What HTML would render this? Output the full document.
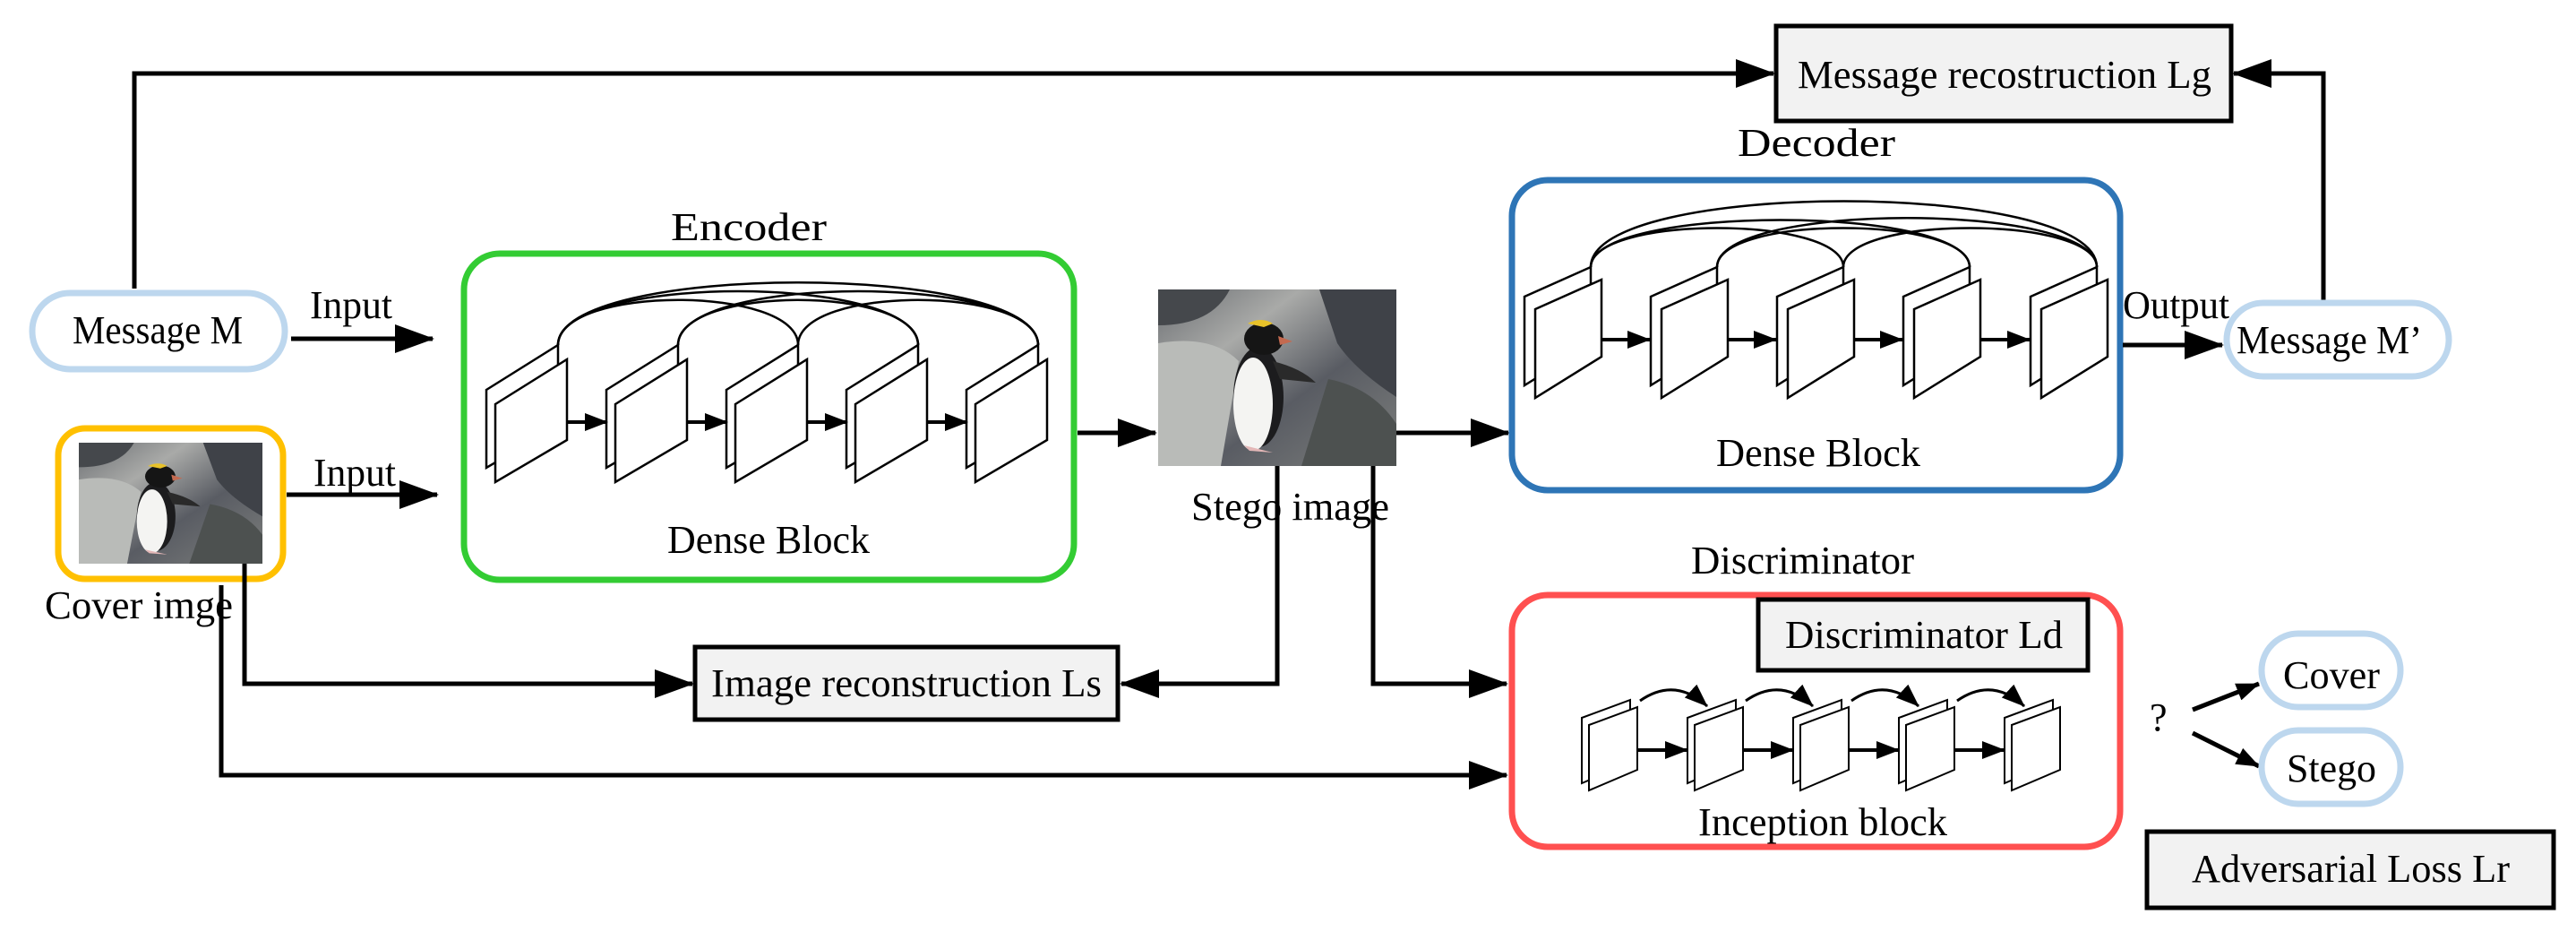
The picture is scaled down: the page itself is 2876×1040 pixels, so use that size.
<!DOCTYPE html>
<html><head><meta charset="utf-8"><style>
html,body{margin:0;padding:0;background:#fff;}
svg{display:block;}
text{font-family:"Liberation Serif",serif;font-size:44px;fill:#000;}
</style></head><body>
<svg width="2876" height="1040" viewBox="0 0 2876 1040" xmlns="http://www.w3.org/2000/svg">
<defs>
<marker id="ah" markerUnits="userSpaceOnUse" markerWidth="44" markerHeight="32" refX="42" refY="16" orient="auto"><path d="M0,0 L44,16 L0,32 Z" fill="#000"/></marker>
<marker id="as" markerUnits="userSpaceOnUse" markerWidth="26" markerHeight="20" refX="25" refY="10" orient="auto"><path d="M0,0 L26,10 L0,20 Z" fill="#000"/></marker>
<linearGradient id="rock" x1="0" y1="0" x2="1" y2="1">
<stop offset="0" stop-color="#6b6e72"/><stop offset="0.3" stop-color="#a9aaa8"/><stop offset="0.6" stop-color="#595c63"/><stop offset="1" stop-color="#7d7f7d"/></linearGradient>
<symbol id="peng" viewBox="0 0 266 197" preserveAspectRatio="none">
<rect width="266" height="197" fill="url(#rock)"/>
<path d="M0,60 Q60,50 90,80 L70,197 L0,197Z" fill="#b9bbb8"/>
<path d="M180,0 L266,0 L266,120 Q220,90 200,60Z" fill="#3f4248"/>
<path d="M190,100 Q240,110 266,150 L266,197 L160,197Z" fill="#4d5150" />
<path d="M0,0 L80,0 Q60,40 0,40Z" fill="#45484c"/>
<ellipse cx="112" cy="120" rx="28" ry="56" fill="#1c1c1e"/>
<ellipse cx="106" cy="128" rx="22" ry="52" fill="#f4f4f2"/>
<ellipse cx="118" cy="55" rx="22" ry="18" fill="#151515"/>
<path d="M100,38 Q115,30 128,38 L118,42Z" fill="#e8c22a"/>
<path d="M134,52 L150,58 L136,62Z" fill="#c46a50"/>
<path d="M128,80 Q160,88 176,104 L136,100Z" fill="#2a2a2a"/>
<path d="M96,174 L128,182 L102,180Z" fill="#e3b7b7"/>
</symbol>
<g id="es">
<polygon points="-10,435 70,385 70,475 -10,522" fill="#fff" stroke="#000" stroke-width="2.5"/>
<polygon points="0,451 80,401 80,491 0,538" fill="#fff" stroke="#000" stroke-width="2.5"/>
</g>
<g id="ds">
<polygon points="-12,331 62,298 62,384 -12,430" fill="#fff" stroke="#000" stroke-width="2.5"/>
<polygon points="0,345 74,312 74,398 0,444" fill="#fff" stroke="#000" stroke-width="2.5"/>
</g>
<g id="is">
<polygon points="-8,801 46,781 46,851 -8,874" fill="#fff" stroke="#000" stroke-width="2"/>
<polygon points="0,809 54,789 54,859 0,882" fill="#fff" stroke="#000" stroke-width="2"/>
</g>
</defs>

<path d="M150,322 L150,82 L1980,82" fill="none" stroke="#000" stroke-width="5" marker-end="url(#ah)"/>
<path d="M2594,338 L2594,82 L2494,82" fill="none" stroke="#000" stroke-width="5" marker-end="url(#ah)"/>

<rect x="36" y="327" width="282" height="85" rx="42" fill="#fff" stroke="#bdd7ee" stroke-width="7"/>
<text x="81" y="383" textLength="190" lengthAdjust="spacingAndGlyphs">Message M</text>
<path d="M325,378 L483,378" stroke="#000" stroke-width="5" marker-end="url(#ah)"/>
<text x="346" y="355" textLength="92" lengthAdjust="spacingAndGlyphs">Input</text>

<rect x="65" y="478" width="251" height="168" rx="30" fill="#fff" stroke="#ffc000" stroke-width="7"/>
<use href="#peng" x="88" y="494" width="205" height="135"/>
<text x="50" y="690" textLength="210" lengthAdjust="spacingAndGlyphs">Cover imge</text>
<path d="M320,552 L488,552" stroke="#000" stroke-width="5" marker-end="url(#ah)"/>
<text x="350" y="542" textLength="92" lengthAdjust="spacingAndGlyphs">Input</text>

<text x="749" y="268" textLength="174" lengthAdjust="spacingAndGlyphs">Encoder</text>
<rect x="518" y="283" width="681" height="364" rx="40" fill="#fff" stroke="#33cc33" stroke-width="7"/>
<g fill="none" stroke="#000" stroke-width="2.5">
<path d="M623,385 C623,318 891,318 891,385"/>
<path d="M623,385 C623,305 1025,305 1025,385"/>
<path d="M623,385 C623,292 1159,292 1159,385"/>
<path d="M757,385 C757,318 1025,318 1025,385"/>
<path d="M757,385 C757,305 1159,305 1159,385"/>
<path d="M891,385 C891,318 1159,318 1159,385"/>
</g>
<use href="#es" x="553"/><use href="#es" x="687"/><use href="#es" x="821"/><use href="#es" x="955"/><use href="#es" x="1089"/>
<g stroke="#000" stroke-width="4">
<path d="M633,471 L678,471" marker-end="url(#as)"/>
<path d="M767,471 L812,471" marker-end="url(#as)"/>
<path d="M901,471 L946,471" marker-end="url(#as)"/>
<path d="M1035,471 L1080,471" marker-end="url(#as)"/>
</g>
<text x="745" y="617" textLength="226" lengthAdjust="spacingAndGlyphs">Dense Block</text>
<path d="M1203,483 L1290,483" stroke="#000" stroke-width="5" marker-end="url(#ah)"/>

<use href="#peng" x="1293" y="323" width="266" height="197"/>
<text x="1330" y="580" textLength="221" lengthAdjust="spacingAndGlyphs">Stego image</text>
<path d="M1559,483 L1684,483" stroke="#000" stroke-width="5" marker-end="url(#ah)"/>
<path d="M1426,520 L1426,763 L1252,763" fill="none" stroke="#000" stroke-width="5" marker-end="url(#ah)"/>
<path d="M1533,520 L1533,763 L1682,763" fill="none" stroke="#000" stroke-width="5" marker-end="url(#ah)"/>

<path d="M273,629 L273,763 L773,763" fill="none" stroke="#000" stroke-width="5" marker-end="url(#ah)"/>
<rect x="776" y="722" width="472" height="81" fill="#f2f2f2" stroke="#000" stroke-width="5"/>
<text x="794" y="777" textLength="436" lengthAdjust="spacingAndGlyphs">Image reconstruction Ls</text>
<path d="M247,653 L247,865 L1682,865" fill="none" stroke="#000" stroke-width="5" marker-end="url(#ah)"/>

<rect x="1983" y="29" width="508" height="106" fill="#f2f2f2" stroke="#000" stroke-width="5"/>
<text x="2007" y="98" textLength="462" lengthAdjust="spacingAndGlyphs">Message recostruction Lg</text>

<text x="1940" y="174" textLength="176" lengthAdjust="spacingAndGlyphs">Decoder</text>
<rect x="1688" y="201" width="679" height="346" rx="40" fill="#fff" stroke="#2e75b6" stroke-width="7"/>
<g fill="none" stroke="#000" stroke-width="2.5">
<path d="M1776,298 C1776,240 2058,240 2058,298"/>
<path d="M1776,298 C1776,228 2199,228 2199,298"/>
<path d="M1776,298 C1776,200 2341,200 2341,298"/>
<path d="M1917,298 C1917,240 2199,240 2199,298"/>
<path d="M1917,298 C1917,225 2341,225 2341,298"/>
<path d="M2058,298 C2058,240 2341,240 2341,298"/>
</g>
<use href="#ds" x="1714"/><use href="#ds" x="1855"/><use href="#ds" x="1996"/><use href="#ds" x="2137"/><use href="#ds" x="2279"/>
<g stroke="#000" stroke-width="4">
<path d="M1788,379 L1842,379" marker-end="url(#as)"/>
<path d="M1929,379 L1983,379" marker-end="url(#as)"/>
<path d="M2070,379 L2124,379" marker-end="url(#as)"/>
<path d="M2211,379 L2266,379" marker-end="url(#as)"/>
</g>
<text x="1916" y="520" textLength="228" lengthAdjust="spacingAndGlyphs">Dense Block</text>
<path d="M2370,385 L2481,385" stroke="#000" stroke-width="5" marker-end="url(#ah)"/>
<text x="2370" y="355" textLength="119" lengthAdjust="spacingAndGlyphs">Output</text>

<rect x="2486" y="338" width="248" height="82" rx="41" fill="#fff" stroke="#bdd7ee" stroke-width="7"/>
<text x="2497" y="394" textLength="207" lengthAdjust="spacingAndGlyphs">Message M’</text>

<text x="1888" y="640" textLength="249" lengthAdjust="spacingAndGlyphs">Discriminator</text>
<rect x="1688" y="664" width="679" height="281" rx="40" fill="#fff" stroke="#ff5050" stroke-width="7"/>
<rect x="1963" y="669" width="368" height="79" fill="#f2f2f2" stroke="#000" stroke-width="5"/>
<text x="1993" y="723" textLength="310" lengthAdjust="spacingAndGlyphs">Discriminator Ld</text>
<use href="#is" x="1774"/><use href="#is" x="1892"/><use href="#is" x="2010"/><use href="#is" x="2128"/><use href="#is" x="2246"/>
<g stroke="#000" stroke-width="4" fill="none">
<path d="M1828,837 L1884,837" marker-end="url(#as)"/>
<path d="M1946,837 L2002,837" marker-end="url(#as)"/>
<path d="M2064,837 L2120,837" marker-end="url(#as)"/>
<path d="M2182,837 L2238,837" marker-end="url(#as)"/>
<path d="M1831,782 Q1870,755 1906,788" stroke-width="3" marker-end="url(#as)"/>
<path d="M1949,782 Q1988,755 2024,788" stroke-width="3" marker-end="url(#as)"/>
<path d="M2067,782 Q2106,755 2142,788" stroke-width="3" marker-end="url(#as)"/>
<path d="M2185,782 Q2224,755 2260,788" stroke-width="3" marker-end="url(#as)"/>
</g>
<text x="1896" y="932" textLength="278" lengthAdjust="spacingAndGlyphs">Inception block</text>

<text x="2400" y="815">?</text>
<path d="M2448,792 L2522,763" stroke="#000" stroke-width="5" marker-end="url(#as)"/>
<path d="M2448,818 L2522,855" stroke="#000" stroke-width="5" marker-end="url(#as)"/>
<rect x="2525" y="707" width="155" height="82" rx="41" fill="#fff" stroke="#bdd7ee" stroke-width="7"/>
<text x="2549" y="768" textLength="108" lengthAdjust="spacingAndGlyphs">Cover</text>
<rect x="2525" y="815" width="155" height="82" rx="41" fill="#fff" stroke="#bdd7ee" stroke-width="7"/>
<text x="2553" y="872" textLength="100" lengthAdjust="spacingAndGlyphs">Stego</text>

<rect x="2397" y="928" width="454" height="85" fill="#f2f2f2" stroke="#000" stroke-width="5"/>
<text x="2447" y="984" textLength="355" lengthAdjust="spacingAndGlyphs">Adversarial Loss Lr</text>
</svg>
</body></html>
